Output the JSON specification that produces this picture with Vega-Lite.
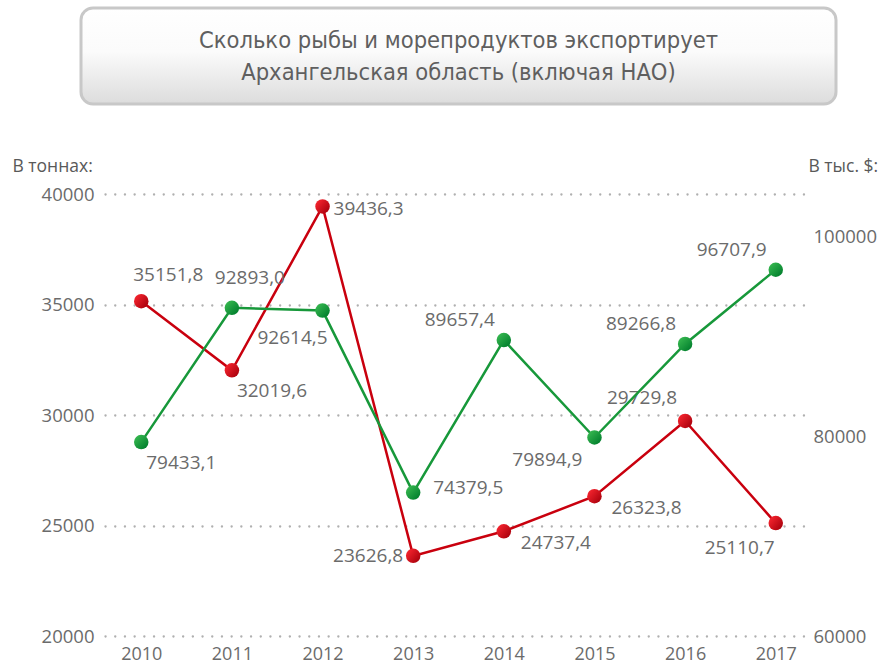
{
  "$schema": "https://vega.github.io/schema/vega-lite/v6.json",
  "padding": {"left": 12, "top": 6, "right": 5, "bottom": 0},
  "background": "white",
  "config": {
    "locale": {"number": {"decimal": ",", "thousands": "\u00a0", "grouping": [3], "currency": ["", ""]}},
    "font": "Open Sans",
    "view": {"stroke": null}
  },
  "spacing": 90,
  "bounds": "flush",
  "center": true,
  "vconcat": [
    {
      "width": 755,
      "height": 96,
      "view": {
        "fill": {"gradient": "linear", "x1": 0, "y1": 0, "x2": 0, "y2": 1, "stops": [{"offset": 0, "color": "#ffffff"}, {"offset": 0.45, "color": "#fbfbfb"}, {"offset": 1, "color": "#dcdcdc"}]},
        "stroke": "#c8c8c8",
        "strokeWidth": 3,
        "cornerRadius": 12
      },
      "data": {"values": [{"t": "Сколько рыбы и морепродуктов экспортирует\nАрхангельская область (включая НАО)"}]},
      "mark": {"type": "text", "lineBreak": "\n", "font": "Liberation Sans Narrow, DejaVu Sans Condensed, Roboto", "fontSize": 23.5, "lineHeight": 32, "dy": -15, "color": "#5f5f5f", "align": "center", "baseline": "middle"},
      "encoding": {"text": {"field": "t", "type": "nominal"}}
    },
    {
      "width": 707,
      "height": 442,
      "data": {"values": [
        {"year": "2010", "tonnes": 35151.8, "usd": 79433.1},
        {"year": "2011", "tonnes": 32019.6, "usd": 92893.0},
        {"year": "2012", "tonnes": 39436.3, "usd": 92614.5},
        {"year": "2013", "tonnes": 23626.8, "usd": 74379.5},
        {"year": "2014", "tonnes": 24737.4, "usd": 89657.4},
        {"year": "2015", "tonnes": 26323.8, "usd": 79894.9},
        {"year": "2016", "tonnes": 29729.8, "usd": 89266.8},
        {"year": "2017", "tonnes": 25110.7, "usd": 96707.9}
      ]},
      "encoding": {
        "x": {"field": "year", "type": "ordinal", "scale": {"type": "point", "padding": 0.4},
          "axis": {"title": null, "labelAngle": 0, "domain": false, "ticks": false, "labelPadding": 9, "labelFontSize": 18, "labelColor": "#6b6b6b", "labelFont": "Open Sans", "labelBaseline": "top"}}
      },
      "layer": [
        {
          "encoding": {
            "y": {"field": "tonnes", "type": "quantitative",
              "scale": {"domain": [20000, 40000], "nice": false, "zero": false},
              "axis": {"values": [20000, 25000, 30000, 35000, 40000], "format": "d", "grid": true, "gridColor": "#b0b0b0", "gridDash": [0.1, 9.6], "gridCap": "round", "gridWidth": 2.3,
                "domain": false, "ticks": false, "labelPadding": 11, "labelFontSize": 18.5, "labelColor": "#6b6b6b", "labelFont": "Open Sans",
                "title": "В тоннах:", "titleAngle": 0, "titleAlign": "left", "titleBaseline": "middle", "titleX": -93, "titleY": -28, "titleFontSize": 17.5, "titleFontWeight": "normal", "titleColor": "#595959", "titleFont": "Open Sans"}}
          },
          "layer": [
            {"mark": {"type": "line", "color": "#c9000e", "strokeWidth": 2.5}},
            {"mark": {"type": "circle", "size": 210, "opacity": 1, "fill": {"gradient": "linear", "x1": 0.15, "y1": 0.2, "x2": 0.95, "y2": 0.85, "stops": [{"offset": 0, "color": "#f0222c"}, {"offset": 1, "color": "#a8000c"}]}}},
            {"transform": [{"filter": {"field": "year", "oneOf": ["2010"]}}], "mark": {"type": "text", "align": "center", "baseline": "middle", "dx": 27, "dy": -26, "fontSize": 19, "color": "#6b6b6b"}, "encoding": {"text": {"field": "tonnes", "type": "quantitative", "format": ".1f"}}},
            {"transform": [{"filter": {"field": "year", "oneOf": ["2011"]}}], "mark": {"type": "text", "align": "left", "baseline": "middle", "dx": 5, "dy": 21, "fontSize": 19, "color": "#6b6b6b"}, "encoding": {"text": {"field": "tonnes", "type": "quantitative", "format": ".1f"}}},
            {"transform": [{"filter": {"field": "year", "oneOf": ["2014", "2015"]}}], "mark": {"type": "text", "align": "left", "baseline": "middle", "dx": 17, "dy": 12, "fontSize": 19, "color": "#6b6b6b"}, "encoding": {"text": {"field": "tonnes", "type": "quantitative", "format": ".1f"}}},
            {"transform": [{"filter": {"field": "year", "oneOf": ["2012"]}}], "mark": {"type": "text", "align": "left", "baseline": "middle", "dx": 11, "dy": 3, "fontSize": 19, "color": "#6b6b6b"}, "encoding": {"text": {"field": "tonnes", "type": "quantitative", "format": ".1f"}}},
            {"transform": [{"filter": {"field": "year", "oneOf": ["2013"]}}], "mark": {"type": "text", "align": "right", "baseline": "middle", "dx": -10, "dy": 0, "fontSize": 19, "color": "#6b6b6b"}, "encoding": {"text": {"field": "tonnes", "type": "quantitative", "format": ".1f"}}},
            {"transform": [{"filter": {"field": "year", "oneOf": ["2016"]}}], "mark": {"type": "text", "align": "right", "baseline": "middle", "dx": -8, "dy": -23, "fontSize": 19, "color": "#6b6b6b"}, "encoding": {"text": {"field": "tonnes", "type": "quantitative", "format": ".1f"}}},
            {"transform": [{"filter": {"field": "year", "oneOf": ["2017"]}}], "mark": {"type": "text", "align": "right", "baseline": "middle", "dx": -1, "dy": 25, "fontSize": 19, "color": "#6b6b6b"}, "encoding": {"text": {"field": "tonnes", "type": "quantitative", "format": ".1f"}}}
          ]
        },
        {
          "encoding": {
            "y": {"field": "usd", "type": "quantitative",
              "scale": {"domain": [60000, 104300], "nice": false, "zero": false},
              "axis": {"orient": "right", "values": [60000, 80000, 100000], "format": "d", "grid": false,
                "domain": false, "ticks": false, "labelPadding": 1, "labelFontSize": 18.5, "labelColor": "#6b6b6b", "labelFont": "Open Sans",
                "title": "В тыс. $:", "titleAngle": 0, "titleAlign": "left", "titleBaseline": "middle", "titleX": -4, "titleY": -28, "titleFontSize": 17.5, "titleFontWeight": "normal", "titleColor": "#595959", "titleFont": "Open Sans"}}
          },
          "layer": [
            {"mark": {"type": "line", "color": "#17983a", "strokeWidth": 2.5}},
            {"mark": {"type": "circle", "size": 210, "opacity": 1, "fill": {"gradient": "linear", "x1": 0.15, "y1": 0.15, "x2": 0.9, "y2": 0.9, "stops": [{"offset": 0, "color": "#34b54e"}, {"offset": 1, "color": "#007d2c"}]}}},
            {"transform": [{"filter": {"field": "year", "oneOf": ["2010"]}}], "mark": {"type": "text", "align": "left", "baseline": "middle", "dx": 5, "dy": 21, "fontSize": 19, "color": "#6b6b6b"}, "encoding": {"text": {"field": "usd", "type": "quantitative", "format": ".1f"}}},
            {"transform": [{"filter": {"field": "year", "oneOf": ["2011"]}}], "mark": {"type": "text", "align": "center", "baseline": "middle", "dx": 18, "dy": -30, "fontSize": 19, "color": "#6b6b6b"}, "encoding": {"text": {"field": "usd", "type": "quantitative", "format": ".1f"}}},
            {"transform": [{"filter": {"field": "year", "oneOf": ["2012"]}}], "mark": {"type": "text", "align": "right", "baseline": "middle", "dx": 5, "dy": 27, "fontSize": 19, "color": "#6b6b6b"}, "encoding": {"text": {"field": "usd", "type": "quantitative", "format": ".1f"}}},
            {"transform": [{"filter": {"field": "year", "oneOf": ["2013"]}}], "mark": {"type": "text", "align": "left", "baseline": "middle", "dx": 20, "dy": -5, "fontSize": 19, "color": "#6b6b6b"}, "encoding": {"text": {"field": "usd", "type": "quantitative", "format": ".1f"}}},
            {"transform": [{"filter": {"field": "year", "oneOf": ["2014", "2016", "2017"]}}], "mark": {"type": "text", "align": "right", "baseline": "middle", "dx": -9, "dy": -20, "fontSize": 19, "color": "#6b6b6b"}, "encoding": {"text": {"field": "usd", "type": "quantitative", "format": ".1f"}}},
            {"transform": [{"filter": {"field": "year", "oneOf": ["2015"]}}], "mark": {"type": "text", "align": "right", "baseline": "middle", "dx": -12, "dy": 22, "fontSize": 19, "color": "#6b6b6b"}, "encoding": {"text": {"field": "usd", "type": "quantitative", "format": ".1f"}}}
          ]
        }
      ],
      "resolve": {"scale": {"y": "independent"}}
    }
  ]
}
